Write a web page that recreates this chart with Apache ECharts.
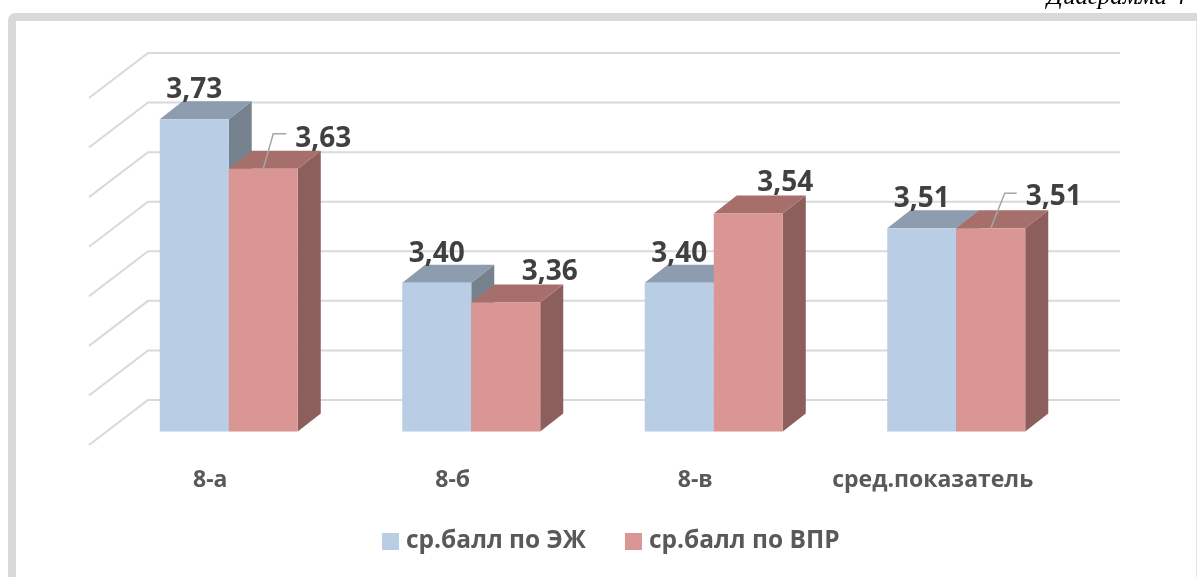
<!DOCTYPE html>
<html>
<head>
<meta charset="utf-8">
<title>Диаграмма</title>
<script src="https://cdn.jsdelivr.net/npm/echarts@6/dist/echarts.min.js"></script>
<style>
html, body { margin: 0; padding: 0; background: #fff; }
#main { width: 1197px; height: 577px; }
</style>
</head>
<body>
<div id="main"></div>
<script>
var categories = ['8-а', '8-б', '8-в', 'сред.показатель'];
var ezhScores = [3.73, 3.40, 3.40, 3.51];
var vprScores = [3.63, 3.36, 3.54, 3.51];
var wallTicks = [3.1, 3.2, 3.3, 3.4, 3.5, 3.6, 3.7, 3.8];
var seriesNames = ['ср.балл по ЭЖ', 'ср.балл по ВПР'];

// hand placed labels, offset from the middle of the bar top
var ezhLabelOffset = [[0, -29], [0, -29], [0, -29], [0, -29]];
var vprLabelOffset = [[60, -30], [44, -31], [37, -30], [63, -31]];
// leader lines only where excel drew them
var vprLeaders = [[10, -35, 23], null, null, [14, -35, 26]];

var WALL_DX = 59, WALL_DY = -45, WALL_RIGHT = 1120;
var BAR_SHIFT_X = 18.5, BAR_SHIFT_Y = -13.5;
var DEPTH_X = 23, DEPTH_Y = -18;
var BAR_WIDTH = 69;

var blue = { front: '#b9cde5', top: '#8d9cae', side: '#76838f' };
var red = { front: '#d99694', top: '#a66f6c', side: '#8c5e5c' };

function comma(v) {
    return v.toFixed(2).replace('.', ',');
}

function poly(points, color) {
    return { type: 'polygon', shape: { points: points }, style: { fill: color } };
}

function makeBar(colors, side, offsets, leaders) {
    return function (params, api) {
        var i = api.value(0);
        var v = api.value(1);
        var top = api.coord([i, v]);
        var base = api.coord([i, wallTicks[0]]);
        var x0 = top[0] + BAR_SHIFT_X + (side === 0 ? -BAR_WIDTH : 0);
        var x1 = x0 + BAR_WIDTH;
        var y0 = top[1] + BAR_SHIFT_Y;
        var y1 = base[1] + BAR_SHIFT_Y;
        var mid = (x0 + x1) / 2;
        var kids = [
            poly([[x1, y0], [x1 + DEPTH_X, y0 + DEPTH_Y], [x1 + DEPTH_X, y1 + DEPTH_Y], [x1, y1]], colors.side),
            poly([[x0, y0], [x0 + DEPTH_X, y0 + DEPTH_Y], [x1 + DEPTH_X, y0 + DEPTH_Y], [x1, y0]], colors.top),
            poly([[x0, y0], [x1, y0], [x1, y1], [x0, y1]], colors.front)
        ];
        var lead = leaders && leaders[i];
        if (lead) {
            kids.push({
                type: 'polyline',
                shape: { points: [[mid, y0], [mid + lead[0], y0 + lead[1]], [mid + lead[2], y0 + lead[1]]] },
                style: { stroke: '#a6a6a6', lineWidth: 1.5, fill: null }
            });
        }
        kids.push({
            type: 'text',
            z2: 10,
            style: {
                x: mid + offsets[i][0],
                y: y0 + offsets[i][1],
                text: comma(v),
                align: 'center',
                verticalAlign: 'middle',
                fill: '#404040',
                font: 'bold 28px "Open Sans"'
            }
        });
        return { type: 'group', children: kids };
    };
}

function renderWall(params, api) {
    var box = params.coordSys;
    var p = api.coord([0, api.value(0)]);
    return {
        type: 'polyline',
        shape: {
            points: [
                [box.x, p[1]],
                [box.x + WALL_DX, p[1] + WALL_DY],
                [WALL_RIGHT, p[1] + WALL_DY]
            ]
        },
        style: { stroke: '#d9d9d9', lineWidth: 2, fill: null }
    };
}

var myChart = echarts.init(document.getElementById('main'));

var option = {
    animation: false,
    backgroundColor: '#fff',
    textStyle: { fontFamily: '"Open Sans"' },
    graphic: [
        {
            type: 'rect',
            shape: { x: 12, y: 17, width: 1300, height: 700, r: 3 },
            style: { fill: null, stroke: '#d9d9d9', lineWidth: 8 },
            silent: true
        },
        {
            type: 'line',
            shape: { x1: 1196.5, y1: 21, x2: 1196.5, y2: 577 },
            style: { stroke: '#e4e4e4', lineWidth: 1 },
            silent: true
        },
        {
            type: 'text',
            left: 1047,
            top: -15,
            style: {
                text: 'Диаграмма 4',
                fill: '#000',
                font: 'italic 25px "Liberation Serif"'
            }
        }
    ],
    grid: { left: 89, top: 98, width: 970, height: 347 },
    legend: {
        left: 377,
        top: 524,
        itemWidth: 17,
        itemHeight: 17,
        itemGap: 39,
        icon: 'rect',
        data: seriesNames,
        textStyle: { color: '#595959', fontSize: 24.5, fontWeight: 'bold', fontFamily: '"Open Sans"', padding: [4, 0, 0, 2] }
    },
    xAxis: {
        type: 'category',
        data: categories.map(function (c, i) {
            // the long label sits a little left of its slot in the original
            return i === 3 ? { value: c, textStyle: { padding: [0, 10, 0, 0] } } : c;
        }),
        axisLine: { show: false },
        axisTick: { show: false },
        axisLabel: { color: '#595959', fontSize: 23, fontWeight: 'bold', margin: 24, interval: 0 }
    },
    yAxis: {
        type: 'value',
        min: 3.1,
        max: 3.8,
        interval: 0.1,
        axisLine: { show: false },
        axisTick: { show: false },
        axisLabel: { show: false },
        splitLine: { show: false }
    },
    series: [
        {
            type: 'custom',
            silent: true,
            renderItem: renderWall,
            data: wallTicks.map(function (t) { return [t]; }),
            encode: { y: 0 },
            z: 1
        },
        {
            name: seriesNames[0],
            type: 'custom',
            renderItem: makeBar(blue, 0, ezhLabelOffset, null),
            itemStyle: { color: blue.front },
            data: ezhScores.map(function (v, i) { return [i, v]; }),
            encode: { x: 0, y: 1 },
            z: 2
        },
        {
            name: seriesNames[1],
            type: 'custom',
            renderItem: makeBar(red, 1, vprLabelOffset, vprLeaders),
            itemStyle: { color: red.front },
            data: vprScores.map(function (v, i) { return [i, v]; }),
            encode: { x: 0, y: 1 },
            z: 3
        }
    ]
};

myChart.setOption(option);
</script>
</body>
</html>
